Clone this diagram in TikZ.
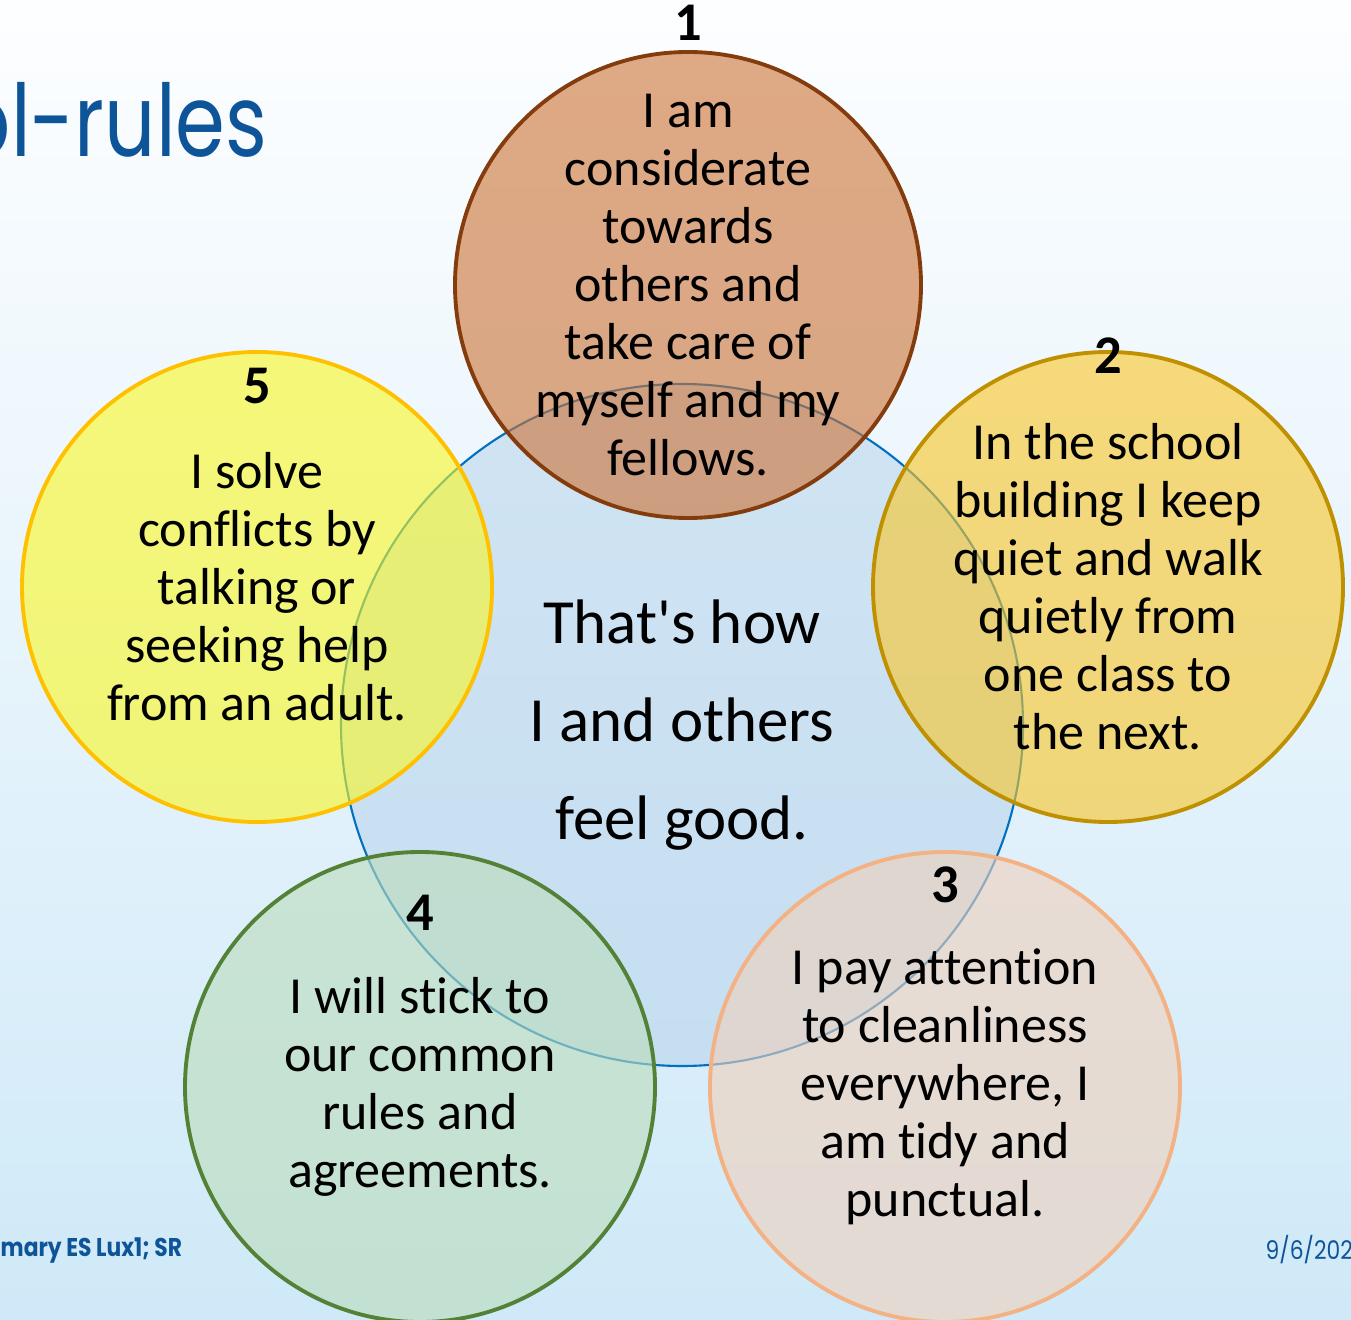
\documentclass[tikz,border=0pt]{standalone}
\usepackage{fontspec}
\setmainfont{Carlito}[Ligatures={TeXOff,NoCommon}]
\newfontfamily\titlefont{Poppins}[FakeStretch=0.85]
\newfontfamily\headfont{Poppins}[FakeStretch=0.8]
\usepackage{xcolor}
\usepackage{tikz}

\definecolor{bgtop}{RGB}{253,254,255}
\definecolor{bgbottom}{RGB}{207,233,248}
\definecolor{titleblue}{RGB}{14,84,152}
\definecolor{coreline}{RGB}{0,112,192}
\definecolor{corefill}{RGB}{179,209,234}
\definecolor{oneline}{RGB}{132,60,12}
\definecolor{onefill}{RGB}{204,113,52}
\definecolor{twoline}{RGB}{191,144,0}
\definecolor{twofill}{RGB}{249,197,37}
\definecolor{threeline}{RGB}{244,177,131}
\definecolor{threefill}{RGB}{239,208,187}
\definecolor{fourline}{RGB}{83,129,53}
\definecolor{fourfill}{RGB}{187,220,187}
\definecolor{fiveline}{RGB}{255,192,0}
\definecolor{fivefill}{RGB}{249,247,34}

\begin{document}
\begin{tikzpicture}[
    rule/.style={circle, draw, line width=1.1pt, fill opacity=0.6, minimum size=4.7cm, inner sep=0pt},
    ruletext/.style={inner sep=0pt, align=center, font=\fontsize{14.8}{16.5}\selectfont},
    core/.style={circle, draw=coreline, line width=0.6pt, fill=corefill, fill opacity=0.5, text opacity=1, minimum size=6.82cm, inner sep=0pt, align=center, font=\fontsize{17.9}{27.9}\selectfont},
    num/.style={inner sep=0pt, font=\fontsize{15.5}{18}\selectfont\bfseries},
    foot/.style={inner sep=0pt, text=titleblue, font=\titlefont\fontsize{7.3}{9}\selectfont}
]
    \useasboundingbox (0,0) rectangle (13.51,-13.20);
    \clip (0,0) rectangle (13.51,-13.20);
    \shade [top color=bgtop, bottom color=bgbottom] (0,0) rectangle (13.51,-13.20);

    % title and footer
    \node [inner sep=0pt, anchor=base east, text=titleblue, font=\headfont\fontsize{28.5}{33}\selectfont] (title) at (2.68,-1.57) {ol-rules};
    \node [foot, anchor=west, font=\titlefont\bfseries\fontsize{7.3}{9}\selectfont] (author) at (0,-12.51) {mary ES Lux1; SR};
    \node [foot, anchor=west] (date) at (12.65,-12.50) {9/6/202};

    % centre
    \node [core] (core) at (6.82,-7.25) {That's how\\I and others\\feel good.};

    % the five rules
    \node [rule, draw=oneline, fill=onefill, minimum size=4.66cm] (c1) at (6.88,-2.85) {};
    \node [rule, draw=twoline, fill=twofill] (c2) at (11.08,-5.87) {};
    \node [rule, draw=threeline, fill=threefill] (c3) at (9.45,-10.87) {};
    \node [rule, draw=fourline, fill=fourfill] (c4) at (4.20,-10.87) {};
    \node [rule, draw=fiveline, fill=fivefill] (c5) at (2.57,-5.87) {};

    \node [ruletext] (t1) at (c1) {I am\\considerate\\towards\\others and\\take care of\\myself and my\\fellows.};
    \node [ruletext] (t2) at (c2) {In the school\\building I keep\\quiet and walk\\quietly from\\one class to\\the next.};
    \node [ruletext] (t3) at (c3) {I pay attention\\to cleanliness\\everywhere, I\\am tidy and\\punctual.};
    \node [ruletext] (t4) at (c4) {I will stick to\\our common\\rules and\\agreements.};
    \node [ruletext] (t5) at (c5) {I solve\\conflicts by\\talking or\\seeking help\\from an adult.};

    % numbers
    \node [num] (n1) at ([yshift=2.7mm]c1.north) {1};
    \node [num] (n2) at ([yshift=-0.6mm]c2.north) {2};
    \node [num] (n3) at ([yshift=-3.5mm]c3.north) {3};
    \node [num] (n4) at ([yshift=-6.3mm]c4.north) {4};
    \node [num] (n5) at ([yshift=-3.6mm]c5.north) {5};
\end{tikzpicture}
\end{document}
